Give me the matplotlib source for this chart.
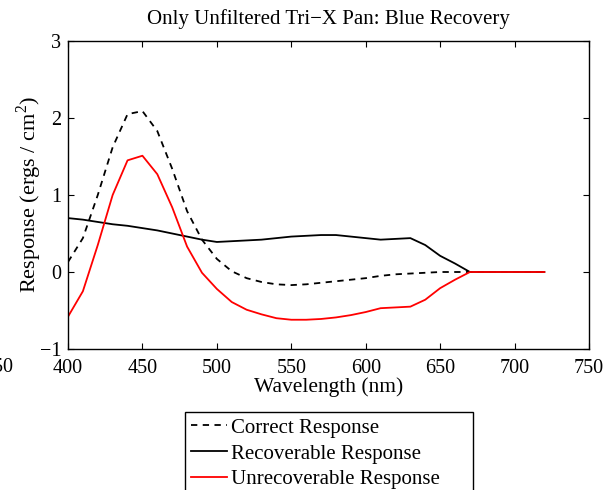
import matplotlib
matplotlib.use("Agg")
import matplotlib.pyplot as plt
from matplotlib.patches import Rectangle

wavelength = [400, 410, 420, 430, 440, 450, 460, 470, 480, 490, 500, 510, 520, 530,
              540, 550, 560, 570, 580, 590, 600, 610, 620, 630, 640, 650, 660, 670,
              680, 690, 700, 710, 720]
correct = [0.13, 0.44, 1.00, 1.62, 2.05, 2.09, 1.83, 1.34, 0.79, 0.42, 0.17, 0.01, -0.08, -0.13,
           -0.16, -0.17, -0.16, -0.14, -0.12, -0.10, -0.08, -0.05, -0.03, -0.02, -0.01, 0.0, 0.0, 0.0,
           0.0, 0.0, 0.0, 0.0, 0.0]
recoverable = [0.70, 0.68, 0.65, 0.62, 0.60, 0.57, 0.54, 0.50, 0.46, 0.42, 0.39, 0.40, 0.41, 0.42,
               0.44, 0.46, 0.47, 0.48, 0.48, 0.46, 0.44, 0.42, 0.43, 0.44, 0.35, 0.21, 0.11, 0.0,
               0.0, 0.0, 0.0, 0.0, 0.0]
unrecoverable = [-0.58, -0.25, 0.35, 1.00, 1.45, 1.51, 1.27, 0.84, 0.33, -0.01, -0.22, -0.39, -0.49, -0.55,
                 -0.60, -0.62, -0.62, -0.61, -0.59, -0.56, -0.52, -0.47, -0.46, -0.45, -0.36, -0.21, -0.10, 0.0,
                 0.0, 0.0, 0.0, 0.0, 0.0]
labels = ["Correct Response", "Recoverable Response", "Unrecoverable Response"]
xticks = [400, 450, 500, 550, 600, 650, 700, 750]
yticks = [-1, 0, 1, 2, 3]
yticklabels = ['\u22121', '0', '1', '2', '3']

plt.rcParams['font.family'] = ['Liberation Serif', 'DejaVu Serif']
plt.rcParams['mathtext.fontset'] = 'custom'
plt.rcParams['mathtext.rm'] = 'Liberation Serif'

W, H = 610, 490
fig = plt.figure(figsize=(6.1, 4.9), dpi=100)
ax = fig.add_axes([68/W, 1-349/H, (589-68)/W, (349-41)/H])

l1, = ax.plot(wavelength, correct, color='black', lw=1.3, ls=(0, (3.5, 3)))
l2, = ax.plot(wavelength, recoverable, color='black', lw=1.3)
l3, = ax.plot(wavelength, unrecoverable, color='red', lw=1.3)

ax.set_xlim(400, 750)
ax.set_ylim(-1, 3)
ax.set_xticks(xticks)
ax.set_yticks(yticks)
ax.set_yticklabels(yticklabels)
ax.tick_params(direction='in', top=True, right=True, length=4, width=0.8, labelsize=14.5)
ax.tick_params(axis='x', pad=7)
ax.tick_params(axis='y', pad=5)
for s in ax.spines.values():
    s.set_linewidth(1.0)

ax.set_title("Only Unfiltered Tri\u2212X Pan: Blue Recovery", fontsize=15, pad=12)
ax.set_xlabel("Wavelength (nm)", fontsize=15.5, labelpad=0)
ax.set_ylabel("Response (ergs / cm$^2$)", fontsize=16, labelpad=-3)

fig.text(13/W, 1-367/H, "350", fontsize=14.5, ha='right', va='center')

# legend frame (box extends past the bottom edge as in the reference)
fig.patches.append(Rectangle((185/W, 1-495/H), (473-185)/W, (495-412)/H,
                             transform=fig.transFigure, facecolor='white',
                             edgecolor='black', linewidth=1.0, zorder=1))
leg = fig.legend([l1, l2, l3], labels, loc='upper left',
                 bbox_to_anchor=(187/W, 1-414/H), fontsize=15,
                 frameon=False,
                 handlelength=1.7, handletextpad=0.2, labelspacing=0.3,
                 borderpad=0.2, borderaxespad=0)
leg.set_zorder(2)

fig.savefig("out.png", dpi=100)
